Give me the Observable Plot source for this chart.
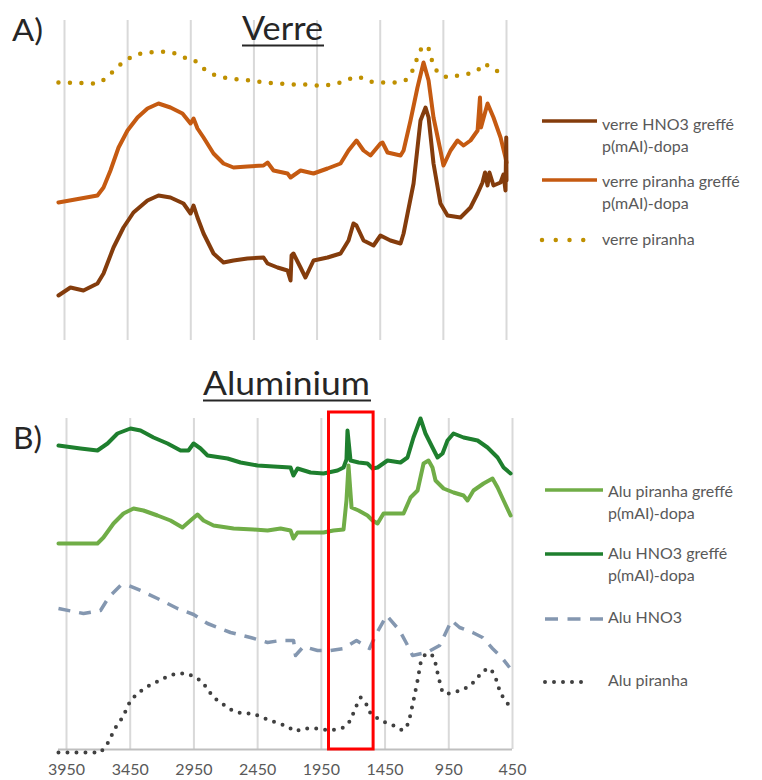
<!DOCTYPE html>
<html><head><meta charset="utf-8">
<script src="https://cdn.jsdelivr.net/npm/d3@7"></script>
<script src="https://cdn.jsdelivr.net/npm/@observablehq/plot@0.6"></script>
<style>
body{margin:0;background:#fff;}
#wrap{position:relative;width:762px;height:780px;overflow:hidden;font-family:Lato,"Open Sans",sans-serif;background:#fff;}
#wrap svg{position:absolute;left:0;}
</style></head><body><div id="wrap"></div>
<script>
// ---------- axis ticks ----------
const wavenumberTicks = [3950, 3450, 2950, 2450, 1950, 1450, 950, 450];
const tickLabels = ["3950", "3450", "2950", "2450", "1950", "1450", "950", "450"];

// ---------- panel titles ----------
const panelLetters = ["A)", "B)"];
const panelTitles = ["Verre", "Aluminium"];

// ---------- series names ----------
const verreNames = ["verre HNO3 greffé p(mAI)-dopa", "verre piranha greffé p(mAI)-dopa", "verre piranha"];
const aluNames = ["Alu piranha greffé p(mAI)-dopa", "Alu HNO3 greffé p(mAI)-dopa", "Alu HNO3", "Alu piranha"];

// ---------- Panel A : verre (wavenumber cm-1, offset absorbance a.u.) ----------
const verreHNO3Greffe = [[3998,45],[3903,53],[3800,50],[3689,57],[3641,67],[3562,93],[3483,113],[3404,128],[3293,140],[3206,145],[3111,143],[3008,137],[2952,127],[2928,135],[2897,123],[2849,107],[2770,87],[2691,78],[2612,80],[2501,82],[2374,83],[2342,77],[2263,73],[2184,70],[2160,60],[2152,85],[2137,87],[2081,73],[2042,63],[1978,80],[1867,83],[1764,87],[1701,100],[1662,117],[1638,115],[1582,100],[1503,95],[1448,105],[1369,100],[1289,97],[1265,107],[1186,157],[1131,220],[1091,233],[1067,223],[1028,177],[973,137],[917,125],[814,123],[735,133],[679,147],[640,158],[620,168],[600,155],[585,168],[553,155],[497,158],[474,166],[458,150],[452,203],[450,160]];
const verrePiranhaGreffe = [[3998,138],[3689,145],[3641,153],[3586,170],[3522,193],[3451,210],[3372,223],[3293,232],[3206,237],[3111,233],[3016,227],[2952,217],[2928,222],[2897,212],[2849,203],[2770,187],[2691,177],[2612,173],[2501,174],[2374,175],[2342,178],[2295,170],[2184,167],[2160,163],[2081,170],[1978,167],[1867,172],[1764,177],[1701,190],[1638,200],[1582,190],[1527,185],[1448,197],[1432,198],[1392,188],[1289,185],[1265,190],[1210,220],[1155,253],[1107,278],[1067,260],[1028,223],[973,190],[949,175],[893,190],[838,200],[790,195],[735,200],[679,210],[660,243],[652,213],[600,237],[553,223],[497,203],[458,183],[450,178]];
const verrePiranha = [[3998,258],[3689,257],[3610,263],[3546,272],[3467,280],[3388,286],[3293,288],[3198,289],[3095,288],[3008,283],[2928,281],[2849,272],[2770,266],[2659,262],[2572,261],[2477,260],[2374,258],[2263,257],[2160,256],[2057,256],[1946,255],[1883,255],[1788,257],[1685,262],[1622,264],[1543,259],[1471,258],[1408,258],[1329,258],[1250,260],[1194,270],[1155,283],[1115,295],[1067,292],[1036,278],[996,268],[917,263],[830,265],[735,267],[672,271],[632,277],[561,273],[497,267],[458,264]];

// ---------- Panel B : aluminium ----------
const aluPiranhaGreffe = [[4013,206],[3707,206],[3660,212],[3581,226],[3503,236],[3424,241],[3346,239],[3236,234],[3134,229],[3040,222],[2977,229],[2922,235],[2875,229],[2796,224],[2639,221],[2482,220],[2372,219],[2270,221],[2192,219],[2169,211],[2137,217],[2035,217],[1933,217],[1855,219],[1776,220],[1753,249],[1737,284],[1713,242],[1658,239],[1588,234],[1548,229],[1509,226],[1462,236],[1305,236],[1250,252],[1195,259],[1148,286],[1109,289],[1078,282],[1054,269],[991,261],[913,257],[834,254],[803,249],[756,259],[677,266],[607,271],[567,262],[520,249],[465,234]];
const aluHNO3Greffe = [[4013,304],[3840,301],[3707,299],[3628,306],[3550,316],[3448,321],[3369,319],[3267,312],[3157,306],[3055,299],[2993,299],[2953,306],[2898,301],[2843,294],[2686,291],[2584,287],[2451,284],[2325,283],[2192,282],[2169,274],[2137,281],[2035,277],[1933,276],[1823,279],[1776,282],[1753,290],[1745,319],[1721,289],[1658,287],[1588,286],[1548,281],[1509,282],[1431,289],[1329,287],[1274,292],[1227,312],[1172,331],[1133,316],[1078,302],[1038,292],[999,296],[960,309],[913,316],[834,312],[724,309],[646,302],[567,292],[520,282],[465,276]];
const aluHNO3 = [[4013,141],[3817,136],[3683,139],[3620,152],[3526,164],[3463,164],[3369,159],[3236,151],[3079,141],[2953,135],[2843,126],[2663,117],[2506,112],[2372,107],[2270,109],[2168,109],[2153,94],[2090,103],[1980,99],[1878,99],[1776,101],[1674,109],[1572,101],[1517,116],[1438,134],[1336,119],[1281,106],[1234,94],[1124,97],[1022,104],[928,129],[865,122],[763,117],[685,112],[607,101],[528,91],[473,82]];
const aluPiranha = [[4013,-3],[3683,-3],[3628,6],[3565,22],[3510,32],[3448,49],[3385,57],[3314,63],[3236,68],[3157,73],[3087,76],[3008,76],[2930,72],[2875,66],[2796,52],[2718,45],[2647,39],[2569,36],[2490,36],[2412,32],[2349,29],[2286,26],[2231,24],[2153,18],[2090,21],[1980,21],[1878,19],[1776,22],[1721,29],[1682,42],[1642,52],[1603,47],[1564,36],[1486,29],[1384,24],[1313,19],[1266,26],[1227,49],[1195,69],[1172,86],[1132,96],[1077,94],[1054,86],[1030,72],[999,57],[952,56],[858,59],[779,64],[724,72],[677,79],[622,81],[583,72],[544,56],[489,46],[465,44]];

// highlighted band (red box) in panel B, wavenumbers, and its top in a.u.
const highlightBand = [1890, 1540];
const highlightTop = 337;

// ---------- styles ----------
const styles = {
  "verre HNO3 greffé p(mAI)-dopa":    {stroke: "#843C0C", w: 4,   dash: null, lw: 3.5},
  "verre piranha greffé p(mAI)-dopa": {stroke: "#C55A11", w: 4,   dash: null, lw: 3.5},
  "verre piranha":                    {stroke: "#BF9000", w: 4.5, dash: "0,11.5", cap: "round", lw: 4.5, ldash: "0,13.75"},
  "Alu piranha greffé p(mAI)-dopa":   {stroke: "#70AD47", w: 4,   dash: null, lw: 3.5},
  "Alu HNO3 greffé p(mAI)-dopa":      {stroke: "#1E7F2E", w: 4,   dash: null, lw: 3.5},
  "Alu HNO3":                         {stroke: "#8497B0", w: 3.5, dash: "12,9", cap: "butt", lw: 3.5, ldash: "13,9.5"},
  "Alu piranha":                      {stroke: "#404040", w: 4,   dash: "0,9", cap: "round", lw: 4, ldash: "0,9"}
};

const toRows = (pairs) => pairs.map(([wn, v]) => ({wn, v}));
function lineMark(pairs, name) {
  const s = styles[name];
  const o = {x: "wn", y: "v", stroke: s.stroke, strokeWidth: s.w, strokeLinejoin: "round", curve: "linear"};
  if (s.dash) { o.strokeDasharray = s.dash; o.strokeLinecap = s.cap; }
  return Plot.line(toRows(pairs), o);
}

const wrap = document.getElementById("wrap");

// ---------- Panel A ----------
const plotA = Plot.plot({
  width: 762, height: 345,
  marginLeft: 64, marginRight: 256, marginTop: 20, marginBottom: 5,
  style: {fontFamily: "Lato, sans-serif", background: "transparent"},
  x: {domain: [3950, 450], axis: null},
  y: {domain: [0, 320], axis: null},
  marks: [
    Plot.gridX(wavenumberTicks, {stroke: "#d9d9d9", strokeOpacity: 1, strokeWidth: 2}),
    lineMark(verrePiranha, verreNames[2]),
    lineMark(verrePiranhaGreffe, verreNames[1]),
    lineMark(verreHNO3Greffe, verreNames[0])
  ]
});
plotA.style.top = "0px";
wrap.appendChild(plotA);

// ---------- Panel B ----------
const allAlu = [aluPiranhaGreffe, aluHNO3Greffe, aluHNO3, aluPiranha];
const firstWn = d3.max(allAlu.flat(), d => d[0]);
const plotB = Plot.plot({
  width: 762, height: 380,
  marginLeft: 66, marginRight: 250, marginTop: 18, marginBottom: 31,
  style: {fontFamily: "Lato, sans-serif", fontSize: "16px", background: "transparent"},
  x: {domain: [3950, 450], label: null},
  y: {domain: [0, 331], axis: null},
  marks: [
    Plot.gridX(wavenumberTicks, {stroke: "#d9d9d9", strokeOpacity: 1, strokeWidth: 2}),
    Plot.ruleY([0], {x1: () => firstWn, x2: () => wavenumberTicks[wavenumberTicks.length - 1], stroke: "#bfbfbf", strokeWidth: 2}),
    Plot.axisX(wavenumberTicks, {tickSize: 0, tickPadding: 14, fontSize: 16, fill: "#595959", label: null,
      tickFormat: d => tickLabels[wavenumberTicks.indexOf(d)]}),
    lineMark(aluPiranha, aluNames[3]),
    lineMark(aluHNO3, aluNames[2]),
    lineMark(aluPiranhaGreffe, aluNames[0]),
    lineMark(aluHNO3Greffe, aluNames[1]),
    Plot.rect([highlightBand], {x1: d => d[0], x2: d => d[1], y1: () => 0, y2: () => highlightTop,
      fill: "none", stroke: "#FF0000", strokeWidth: 3})
  ]
});
plotB.style.top = "400px";
wrap.appendChild(plotB);

// ---------- Overlay: titles & legends ----------
const ov = d3.select(wrap).append("svg")
  .attr("width", 762).attr("height", 780)
  .style("top", "0px").style("pointer-events", "none")
  .style("font-family", "Lato, 'Open Sans', sans-serif");

// panel letters
ov.append("text").attr("x", 12).attr("y", 41).attr("font-size", 31).attr("fill", "#262626")
  .attr("textLength", 31).attr("lengthAdjust", "spacingAndGlyphs").text(panelLetters[0]);
ov.append("text").attr("x", 13).attr("y", 449).attr("font-size", 31).attr("fill", "#262626")
  .attr("textLength", 29).attr("lengthAdjust", "spacingAndGlyphs").text(panelLetters[1]);

// titles (underlined)
const titleSpecs = [{x: 242, y: 40, w: 81}, {x: 203, y: 395, w: 167}];
panelTitles.forEach((t, i) => {
  const s = titleSpecs[i];
  ov.append("text").attr("x", s.x).attr("y", s.y).attr("font-size", 32).attr("fill", "#262626")
    .attr("textLength", s.w).attr("lengthAdjust", "spacingAndGlyphs").text(t);
  ov.append("line").attr("x1", s.x).attr("x2", s.x + s.w + 1)
    .attr("y1", s.y + 5.5).attr("y2", s.y + 5.5).attr("stroke", "#262626").attr("stroke-width", 2);
});

// legends
function legend(names, x0, x1, tx, rows) {
  names.forEach((name, i) => {
    const s = styles[name];
    const r = rows[i];
    const ln = ov.append("line").attr("x1", x0).attr("x2", r.lx1 || x1).attr("y1", r.ly).attr("y2", r.ly)
      .attr("stroke", s.stroke).attr("stroke-width", s.lw);
    if (s.ldash) ln.attr("stroke-dasharray", s.ldash).attr("stroke-linecap", s.cap);
    const parts = name.includes(" p(") ? [name.slice(0, name.indexOf(" p(")), name.slice(name.indexOf(" p(") + 1)] : [name];
    parts.forEach((p, j) => {
      ov.append("text").attr("x", tx).attr("y", r.ty + j * 21.5)
        .attr("font-size", 16).attr("fill", "#595959").text(p);
    });
  });
}
legend(verreNames, 542, 597, 602, [{ly: 121, ty: 130}, {ly: 180, ty: 187}, {ly: 240, ty: 245}]);
legend(aluNames, 545, 603, 608, [{ly: 490, ty: 497}, {ly: 554, ty: 559}, {ly: 619, ty: 623}, {ly: 682, ty: 686, lx1: 590}]);
</script>
</body></html>
